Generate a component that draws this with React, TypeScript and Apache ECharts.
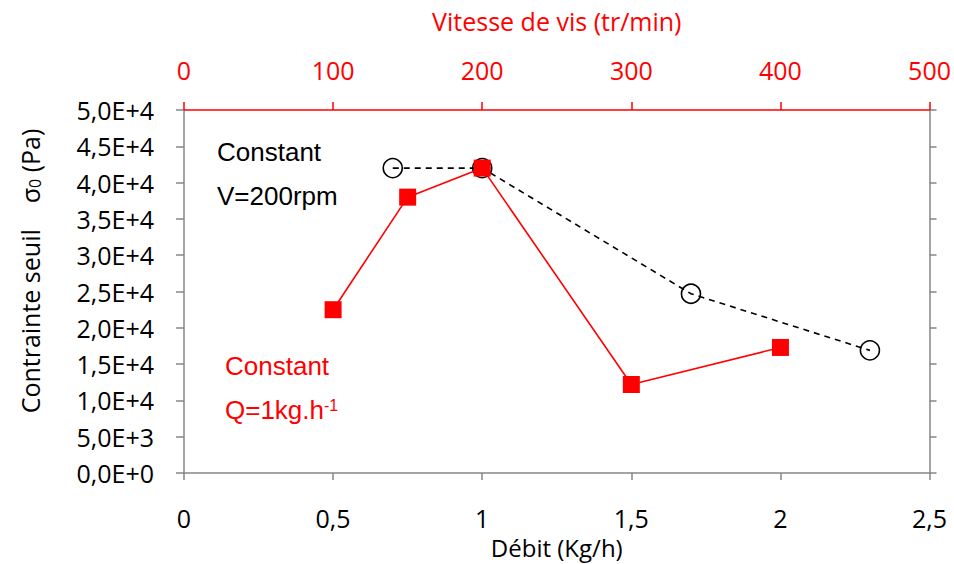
import React, { useEffect, useRef } from "react";
import * as echarts from "echarts";

// Black series: constant screw speed V = 200 rpm, x = flow rate (Kg/h)
const debitV200 = [0.7, 1, 1.7, 2.3];
const sigmaV200 = [42000, 42000, 24700, 16900];

// Red series: constant flow Q = 1 kg/h, x = screw speed (tr/min)
const vitesseQ1 = [100, 150, 200, 300, 400];
const sigmaQ1 = [22500, 38000, 42000, 12200, 17300];

const bottomAxisTitle = "Débit (Kg/h)";
const topAxisTitle = "Vitesse de vis (tr/min)";

const GRAY = "#868686";
const RED = "#FF0000";
const FONT = "Open Sans";
const ANNOT_FONT = "Liberation Sans";

export default function App() {
  const ref = useRef<HTMLDivElement>(null);

  useEffect(() => {
    document.body.style.margin = "0";
    if (!ref.current) return;
    const chart = echarts.init(ref.current, undefined, { renderer: "svg" });

    const comma = (v: number) => String(v).replace(".", ",");
    const sci = (v: number) =>
      v.toExponential(1).replace(".", ",").replace("e+", "E+").replace("e-", "E-");

    chart.setOption({
      animation: false,
      backgroundColor: "#ffffff",
      grid: { left: 184, right: 23, top: 110, bottom: 84, containLabel: false },
      xAxis: [
        {
          type: "value",
          position: "bottom",
          min: 0,
          max: 2.5,
          interval: 0.5,
          name: bottomAxisTitle,
          nameLocation: "middle",
          nameGap: 55,
          nameTextStyle: { color: "#000", fontSize: 24, fontFamily: FONT },
          axisLine: { show: true, onZero: false, lineStyle: { color: GRAY, width: 1.5 } },
          axisTick: { show: true, inside: false, length: 7, lineStyle: { color: GRAY, width: 1.5 } },
          axisLabel: { color: "#000", fontSize: 25, fontFamily: FONT, margin: 32, formatter: comma },
          splitLine: { show: false },
        },
        {
          type: "value",
          position: "top",
          min: 0,
          max: 500,
          interval: 100,
          name: topAxisTitle,
          nameLocation: "middle",
          nameGap: 77,
          nameTextStyle: { color: RED, fontSize: 25, fontFamily: FONT },
          axisLine: { show: true, onZero: false, lineStyle: { color: RED, width: 1.5 } },
          axisTick: { show: true, inside: false, length: 8, lineStyle: { color: RED, width: 1.5 } },
          axisLabel: { color: RED, fontSize: 25, fontFamily: FONT, margin: 28 },
          splitLine: { show: false },
        },
      ],
      yAxis: [
        {
          type: "value",
          position: "left",
          min: 0,
          max: 50000,
          interval: 5000,
          axisLine: { show: true, onZero: false, lineStyle: { color: GRAY, width: 1.5 } },
          axisTick: { show: true, inside: false, length: 8, lineStyle: { color: GRAY, width: 1.5 } },
          axisLabel: {
            color: "#000",
            fontSize: 25,
            fontFamily: FONT,
            margin: 30,
            padding: [4, 0, 0, 0],
            formatter: sci,
          },
          splitLine: { show: false },
        },
        {
          type: "value",
          position: "right",
          min: 0,
          max: 50000,
          interval: 5000,
          axisLine: { show: true, onZero: false, lineStyle: { color: GRAY, width: 1.5 } },
          axisTick: { show: true, inside: false, length: 7, lineStyle: { color: GRAY, width: 1.5 } },
          axisLabel: { show: false },
          splitLine: { show: false },
        },
      ],
      series: [
        {
          type: "line",
          xAxisIndex: 0,
          yAxisIndex: 0,
          data: debitV200.map((x, i) => [x, sigmaV200[i]]),
          symbol: "circle",
          symbolSize: 19,
          itemStyle: { color: "rgba(0,0,0,0)", borderColor: "#000", borderWidth: 1.6 },
          lineStyle: { color: "#000", width: 1.6, type: [6, 5] },
          z: 2,
        },
        {
          type: "line",
          xAxisIndex: 1,
          yAxisIndex: 0,
          data: vitesseQ1.map((x, i) => [x, sigmaQ1[i]]),
          symbol: "rect",
          symbolSize: 17,
          itemStyle: { color: RED },
          lineStyle: { color: RED, width: 1.6 },
          z: 3,
        },
      ],
      graphic: [
        {
          type: "text",
          x: 30,
          y: 271,
          rotation: Math.PI / 2,
          style: {
            text: "{a|Contrainte seuil    σ}{s|0}{a| (Pa)}",
            align: "center",
            verticalAlign: "middle",
            rich: {
              a: { fontSize: 25, fontFamily: FONT, fill: "#000", verticalAlign: "bottom" },
              s: { fontSize: 16, fontFamily: FONT, fill: "#000", verticalAlign: "bottom" },
            },
          },
        },
        {
          type: "text",
          x: 217,
          y: 152,
          style: { text: "Constant", fontSize: 26, fontFamily: ANNOT_FONT, fill: "#000", verticalAlign: "middle" },
        },
        {
          type: "text",
          x: 217,
          y: 196,
          style: { text: "V=200rpm", fontSize: 26, fontFamily: ANNOT_FONT, fill: "#000", verticalAlign: "middle" },
        },
        {
          type: "text",
          x: 225,
          y: 366,
          style: { text: "Constant", fontSize: 26, fontFamily: ANNOT_FONT, fill: RED, verticalAlign: "middle" },
        },
        {
          type: "text",
          x: 225,
          y: 410,
          style: {
            text: "{a|Q=1kg.h}{s|-1}",
            verticalAlign: "middle",
            rich: {
              a: { fontSize: 26, fontFamily: ANNOT_FONT, fill: RED, verticalAlign: "bottom" },
              s: { fontSize: 16, fontFamily: ANNOT_FONT, fill: RED, verticalAlign: "top" },
            },
          },
        },
      ],
    });

    return () => chart.dispose();
  }, []);

  return <div ref={ref} style={{ width: 954, height: 564 }} />;
}
